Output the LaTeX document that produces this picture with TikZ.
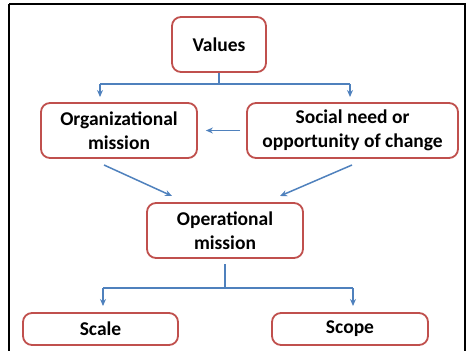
\documentclass[tikz,border=0pt]{standalone}
\usepackage{fontspec}
\setmainfont{Carlito}
\usetikzlibrary{arrows.meta}
\definecolor{boxred}{RGB}{192,80,77}
\definecolor{arrblue}{RGB}{79,129,189}
\begin{document}
\begin{tikzpicture}[x=1pt,y=-1pt,
  box/.style={draw=boxred,line width=1.8pt,rounded corners=9pt,fill=white,align=center,font=\bfseries\fontsize{19.5}{24}\selectfont,inner sep=0pt},
  conn/.style={draw=arrblue,line width=1.5pt},
  arr/.style={conn,-{Stealth[length=7pt,width=6pt]}}]
\useasboundingbox (0,0) rectangle (470,350);
\begin{scope}
\clip (0,0) rectangle (470,350);
\draw[line width=2.5pt] (9,4) -- (9,360);
\draw[line width=2.5pt] (9,4) -- (465,4) -- (465,360);
\end{scope}
\node[box,minimum width=94pt,minimum height=55pt] (val) at (219,44.5) {Values};
\node[box,minimum width=156pt,minimum height=55pt] (org) at (119,130.5) {Organizational\\mission};
\node[box,minimum width=211pt,minimum height=55pt] (soc) at (352.5,130.5) {Social need or\\opportunity of change};
\node[box,minimum width=156pt,minimum height=55pt] (op) at (225,230.5) {Operational\\mission};
\node[box,minimum width=155pt,minimum height=32pt] (scale) at (100.5,329) {Scale};
\node[box,minimum width=156pt,minimum height=32pt] (scope) at (350,329) {Scope};
\coordinate (v1) at (219,84);
\coordinate (vl) at (100,84);
\coordinate (vr) at (350,84);
\draw[conn] (val.south) -- (v1);
\draw[conn] (vl) -- (vr);
\draw[arr] (vl) -- (100,97);
\draw[arr] (vr) -- (350,97);
\draw[arr] ([xshift=-6pt]soc.west) -- ([xshift=8pt]org.east);
\draw[arr] (104,165) -- (172,196);
\draw[arr] (352,165) -- (280,196);
\coordinate (o1) at (225,264);
\coordinate (o2) at (225,288);
\coordinate (ol) at (103,288);
\coordinate (or) at (353,288);
\draw[conn] (o1) -- (o2);
\draw[conn] (ol) -- (or);
\draw[arr] (ol) -- (103,306);
\draw[arr] (or) -- (353,306);
\end{tikzpicture}
\end{document}
